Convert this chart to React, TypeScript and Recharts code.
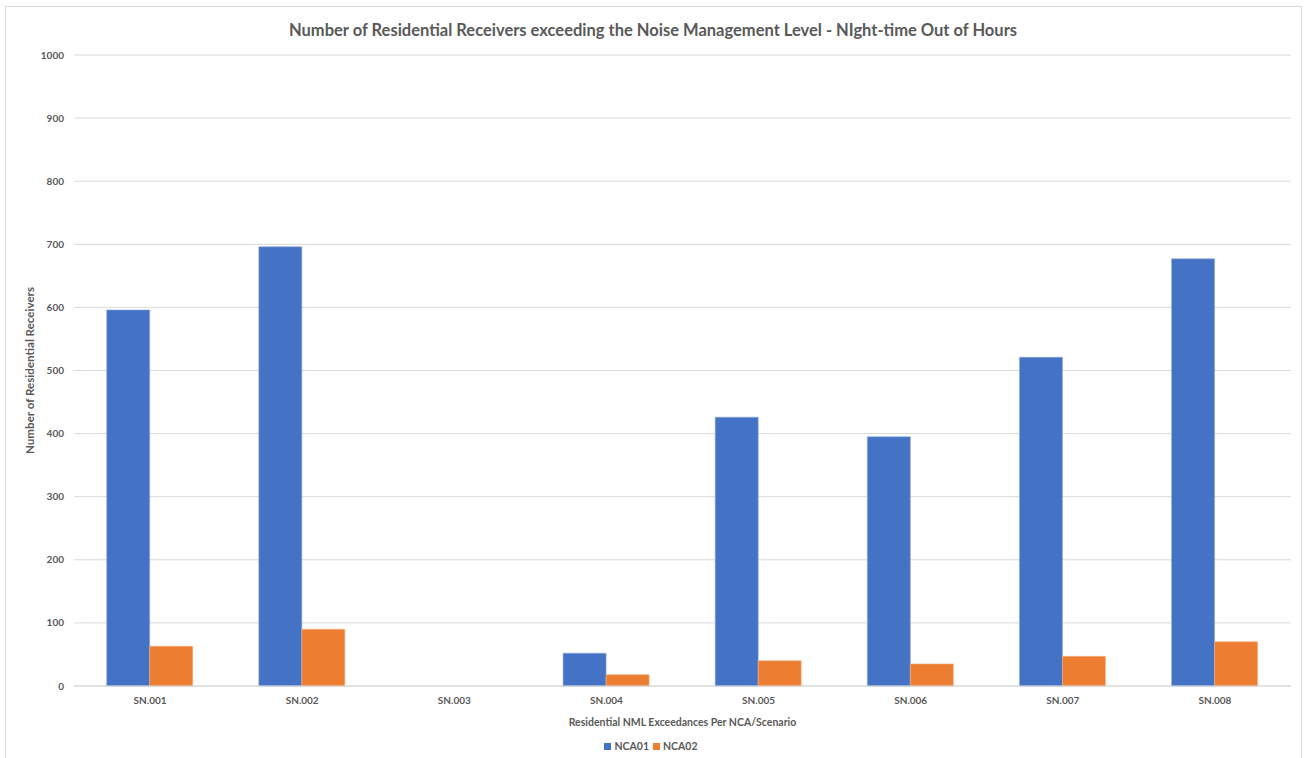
import React from "react";
import {
  BarChart,
  Bar,
  XAxis,
  YAxis,
  CartesianGrid,
  Legend,
} from "recharts";

// Scenario categories along the x axis
const scenarios = ["SN.001", "SN.002", "SN.003", "SN.004", "SN.005", "SN.006", "SN.007", "SN.008"];
// Residential receivers exceeding the NML, per noise catchment area
const nca01 = [596, 696, 0, 52, 426, 395, 521, 677];
const nca02 = [63, 90, 0, 18, 40, 35, 47, 70];
// Value axis ticks
const yTicks = [0, 100, 200, 300, 400, 500, 600, 700, 800, 900, 1000];

const data = scenarios.map((name, i) => ({ name, NCA01: nca01[i], NCA02: nca02[i] }));

const FONT = "Lato, 'Open Sans', sans-serif";
const GREY = "#595959";

const YLabel = (props: any) => {
  const { viewBox } = props;
  const cy = viewBox.y + viewBox.height / 2;
  const cx = 29;
  return (
    <text
      x={cx}
      y={cy}
      transform={`rotate(-90, ${cx}, ${cy})`}
      textAnchor="middle"
      dominantBaseline="central"
      fontFamily={FONT}
      fontSize={11.6}
      fontWeight={700}
      fill={GREY}
    >
      Number of Residential Receivers
    </text>
  );
};

const XLabel = (props: any) => {
  const { viewBox } = props;
  const cx = viewBox.x + viewBox.width / 2;
  return (
    <text
      x={cx}
      y={722}
      textAnchor="middle"
      dominantBaseline="central"
      fontFamily={FONT}
      fontSize={10.5}
      fontWeight={700}
      fill={GREY}
    >
      Residential NML Exceedances Per NCA/Scenario
    </text>
  );
};

// Compact legend: small square swatch followed by the series name
const LegendContent = (props: any) => {
  const { payload = [] } = props;
  return (
    <div style={{ display: "flex", justifyContent: "center", paddingLeft: 0 }}>
      {payload.map((entry: any) => (
        <div key={entry.value} style={{ display: "flex", alignItems: "center", marginRight: 4 }}>
          <span
            style={{
              display: "inline-block",
              width: 7,
              height: 7,
              background: entry.color,
              marginRight: 3,
            }}
          />
          <span style={{ color: GREY, fontFamily: FONT, fontSize: 10.5, fontWeight: 700 }}>{entry.value}</span>
        </div>
      ))}
    </div>
  );
};

export default function App() {
  return (
    <div
      style={{
        position: "absolute",
        left: 0,
        top: 0,
        width: 1306,
        height: 758,
        background: "#ffffff",
        overflow: "hidden",
        fontFamily: FONT,
      }}
    >
      <div
        style={{
          position: "absolute",
          left: 5,
          top: 6,
          width: 1297,
          height: 800,
          border: "1px solid #d9d9d9",
          boxSizing: "border-box",
        }}
      />
      <div
        style={{
          position: "absolute",
          left: 0,
          top: 18,
          width: 1306,
          textAlign: "center",
          fontSize: 16.5,
          fontWeight: 700,
          color: GREY,
          lineHeight: "24px",
        }}
      >
        Number of Residential Receivers exceeding the Noise Management Level - NIght-time Out of Hours
      </div>
      <div style={{ position: "absolute", left: 0, top: 0 }}>
        <BarChart
          width={1306}
          height={758}
          data={data}
          margin={{ top: 55, right: 15, bottom: 20, left: 0 }}
          barCategoryGap="21.5%"
          barGap={0}
        >
          <CartesianGrid vertical={false} stroke="#d9d9d9" strokeWidth={1} />
          <XAxis
            dataKey="name"
            height={40}
            axisLine={{ stroke: "#d9d9d9" }}
            tickLine={false}
            tickMargin={5}
            tick={{ fontFamily: FONT, fontSize: 10, fontWeight: 700, fill: GREY }}
            label={<XLabel />}
          />
          <YAxis
            width={74}
            domain={[0, 1000]}
            ticks={yTicks}
            interval={0}
            axisLine={false}
            tickLine={false}
            tickMargin={4}
            tick={{ fontFamily: FONT, fontSize: 10, fontWeight: 700, fill: GREY }}
            label={<YLabel />}
          />
          <Legend
            verticalAlign="bottom"
            align="center"
            wrapperStyle={{ bottom: 6, lineHeight: "12px", left: 0, width: 1306 }}
            content={<LegendContent />}
          />
          <Bar dataKey="NCA01" fill="#4472C4" stroke="#8eaadb" strokeWidth={0.6} isAnimationActive={false} />
          <Bar dataKey="NCA02" fill="#ED7D31" stroke="#f4b183" strokeWidth={0.6} isAnimationActive={false} />
        </BarChart>
      </div>
    </div>
  );
}
